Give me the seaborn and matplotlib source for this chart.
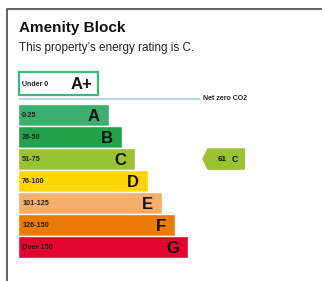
import matplotlib.pyplot as plt
import matplotlib.patches as mpatches
import seaborn as sns

sns.set_style("white")
plt.rcParams['font.family'] = ['Liberation Sans', 'DejaVu Sans']

title = "Amenity Block"
subtitle = "This property\u2019s energy rating is C."

bands = ["A", "B", "C", "D", "E", "F", "G"]
ranges = ["0-25", "26-50", "51-75", "76-100", "101-125", "126-150", "Over 150"]
upper = [25, 50, 75, 100, 125, 150, 10**9]
lengths = [91, 104, 117, 130, 144, 157, 170]
colors = ["#3cae6f", "#21a24a", "#9bc232", "#ffd500", "#f6ae6a", "#ec7a06", "#e2032f"]

top_band = "A+"
top_range = "Under 0"
top_color = "#3cb878"
net_zero = "Net zero CO2"

rating = 61

fig = plt.figure(figsize=(3.22, 2.81), dpi=100)

# background axes in pixel units
bg = fig.add_axes([0, 0, 1, 1])
bg.set_xlim(0, 322)
bg.set_ylim(281, 0)
bg.axis("off")

# frame
bg.plot([7, 7, 322], [281, 9, 9], color="#555555", lw=1.3, solid_capstyle="butt")

bg.text(19, 28, title, fontsize=11, fontweight="bold", va="center", ha="left", color="#111111")
bg.text(19, 48, subtitle, fontsize=8.5, va="center", ha="left", color="#222222")

# A+ box
bg.add_patch(mpatches.Rectangle((19, 71.5), 79, 23.5, facecolor="white",
                                edgecolor=top_color, lw=1.6))
bg.text(22, 84, top_range, fontsize=5, fontweight="bold", va="center", color="#222222")
bg.text(92, 84.5, top_band, fontsize=12, fontweight="bold", va="center", ha="right", color="#111111")

# net zero line
bg.plot([19, 200], [98.5, 98.5], color="#b3d8ee", lw=1.6, solid_capstyle="butt")
bg.text(203, 99, net_zero, fontsize=5, fontweight="bold", va="center", ha="left", color="#222222")

# bars
ax = fig.add_axes([18 / 322, (281 - 258) / 281, (322 - 18) / 322, 154 / 281])
sns.barplot(x=lengths, y=bands, hue=bands, palette=colors, orient="h",
            width=0.98, legend=False, saturation=1, ax=ax)
ax.set_xlim(0, 304)
ax.axis("off")

for i, (b, r, L) in enumerate(zip(bands, ranges, lengths)):
    ax.text(4, i + 0.03, r, fontsize=5.2, fontweight="bold", va="center", ha="left", color="#222222")
    ax.text(L - 9, i + 0.07, b, fontsize=12, fontweight="bold", va="center", ha="right", color="#111111")

# current rating arrow
idx = next(i for i, u in enumerate(upper) if rating <= u)
tip, body, end = 184, 189.5, 227
arrow = mpatches.Polygon([(tip, idx), (body, idx - 0.49), (end, idx - 0.49),
                          (end, idx + 0.49), (body, idx + 0.49)],
                         closed=True, facecolor=colors[idx], edgecolor="none")
ax.add_patch(arrow)
ax.text(204.5, idx + 0.03, str(rating), fontsize=5.8, fontweight="bold", va="center", ha="center", color="#111111")
ax.text(217, idx + 0.03, bands[idx], fontsize=6.2, fontweight="bold", va="center", ha="center", color="#111111")

fig.savefig("out.png", dpi=100)
